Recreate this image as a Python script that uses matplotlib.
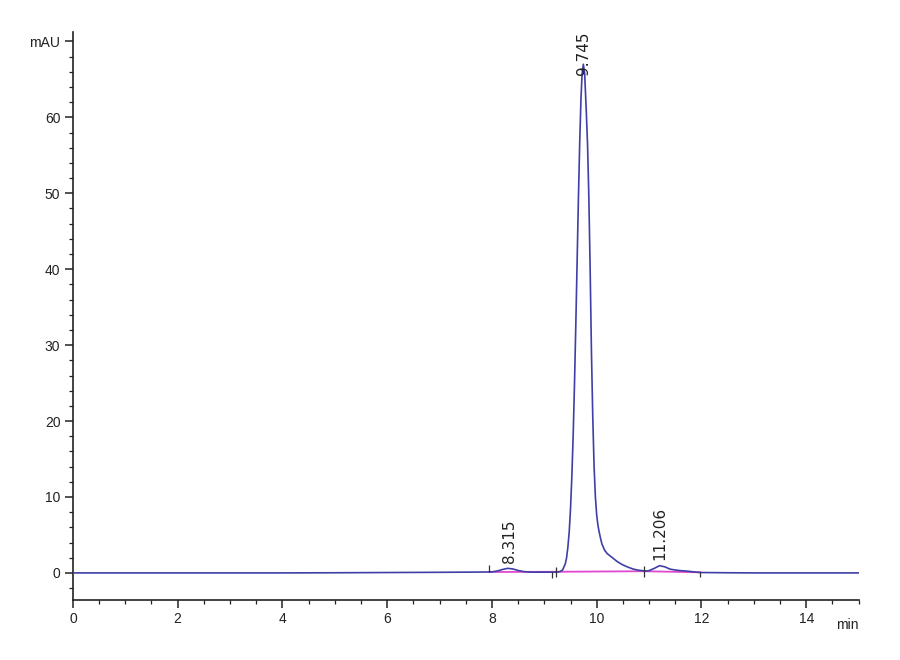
import matplotlib
matplotlib.use("Agg")
from matplotlib import pyplot as plt

# chromatogram trace (time in min, signal in mAU)
time_min = [0.0, 1.0, 2.0, 3.0, 4.0, 5.0, 6.0, 7.0, 7.5, 7.9, 8.0, 8.1, 8.2, 8.3,
            8.4, 8.5, 8.6, 8.7, 8.8, 9.0, 9.2, 9.3, 9.35, 9.4, 9.425, 9.45,
            9.475, 9.5, 9.525, 9.55, 9.575, 9.6, 9.625, 9.65, 9.675, 9.7, 9.72,
            9.745, 9.77, 9.8, 9.825, 9.85, 9.875, 9.9, 9.925, 9.95, 9.975, 10.0,
            10.025, 10.05, 10.075, 10.1, 10.15, 10.2, 10.3, 10.4, 10.5, 10.6,
            10.7, 10.8, 10.9, 10.95, 11.0, 11.1, 11.2, 11.3, 11.4, 11.5, 11.6,
            11.7, 11.8, 11.9, 12.0, 12.5, 13.0, 14.0, 15.0]
signal_mau = [0.0, 0.0, 0.0, 0.0, 0.0, 0.02, 0.05, 0.08, 0.1, 0.12, 0.14, 0.25,
              0.45, 0.6, 0.52, 0.32, 0.18, 0.12, 0.1, 0.1, 0.1, 0.17, 0.4, 1.2,
              2.0, 3.4, 5.4, 8.4, 12.6, 17.9, 24.6, 32.3, 40.6, 49.0, 56.5,
              62.5, 65.6, 67.0, 65.8, 61.0, 56.5, 49.5, 40.0, 29.0, 20.5, 14.0,
              10.0, 7.6, 6.2, 5.3, 4.5, 3.8, 3.0, 2.55, 2.0, 1.45, 1.05, 0.75,
              0.5, 0.35, 0.28, 0.25, 0.3, 0.6, 0.95, 0.8, 0.5, 0.38, 0.3, 0.25,
              0.18, 0.1, 0.05, 0.02, 0.0, 0.0, 0.0]

# integration baseline (pink) and peak start/stop marks
base_t = [7.95, 9.22, 10.9, 11.98]
base_y = [0.12, 0.15, 0.22, 0.08]
mark_t = [7.95, 9.15, 9.22, 10.9, 11.98]
mark_lo = [0.1, -0.7, -0.5, -0.5, -0.6]
mark_hi = [1.0, 0.1, 0.8, 0.9, 0.1]

# peak labels
peak_names = ["8.315", "9.745", "11.206"]
peak_x = [8.33, 9.745, 11.2]
peak_y = [1.3, 65.6, 1.7]

yticks = [0, 10, 20, 30, 40, 50, 60, 70]
ytick_labels = ["0", "10", "20", "30", "40", "50", "60", "mAU"]
xticks = [0, 2, 4, 6, 8, 10, 12, 14]

plt.rcParams['font.family'] = ['Liberation Sans', 'DejaVu Sans']

fig = plt.figure(figsize=(9, 6.6), dpi=100)
ax = fig.add_axes([0.081, 0.091, 0.873, 0.86])

trace_color = '#3f3fa6'
base_color = '#e048d0'

ax.plot(base_t, base_y, color=base_color, lw=1.3, zorder=2)
ax.plot(time_min, signal_mau, color=trace_color, lw=1.2, zorder=3)
ax.vlines(mark_t, mark_lo, mark_hi, color='#333333', lw=0.9, zorder=4)

for name, px, py in zip(peak_names, peak_x, peak_y):
    ax.text(px, py, name, rotation=90, ha='center', va='bottom',
            fontsize=11, color='#222222', family=['DejaVu Sans'])

ax.set_xlim(0, 15)
ax.set_ylim(-3.56, 71.2)

ax.set_yticks(yticks)
ax.set_yticklabels(ytick_labels)
ax.set_yticks(list(range(-2, 71, 2)), minor=True)
ax.set_xticks(xticks)
ax.set_xticks([x * 0.5 for x in range(0, 31)], minor=True)
ax.text(1.0, -0.032, "min", transform=ax.transAxes, ha='right', va='top',
        fontsize=10, color='#222222')

for side in ['top', 'right']:
    ax.spines[side].set_visible(False)
for side in ['left', 'bottom']:
    ax.spines[side].set_color('#222222')
    ax.spines[side].set_linewidth(1.2)

ax.tick_params(which='major', direction='out', length=6, width=1.1,
               labelsize=10, colors='#222222', pad=3)
ax.tick_params(which='minor', direction='out', length=3, width=0.9,
               colors='#222222')

fig.savefig("out.png", dpi=100)
